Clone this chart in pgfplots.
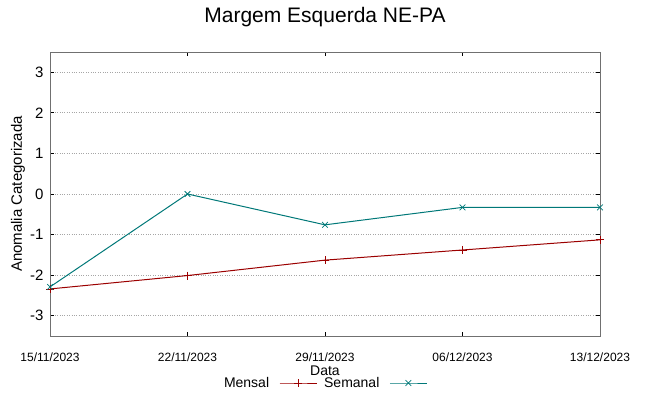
\documentclass[border=0pt]{standalone}
\usepackage{pgfplots}
\pgfplotsset{compat=1.18}
\usepackage{fontspec}
\setmainfont{Liberation Sans}
\definecolor{mensal}{HTML}{9B0000}
\definecolor{semanal}{HTML}{007878}
\definecolor{bordergray}{HTML}{707070}
\begin{document}
\begin{tikzpicture}
\useasboundingbox (0,0) rectangle (649bp,396bp);
\begin{axis}[
  at={(50bp,60bp)}, anchor=south west,
  scale only axis, width=550bp, height=284bp,
  xmin=0, xmax=4, ymin=-3.5, ymax=3.5,
  xtick={0,1,2,3,4},
  xticklabels={15/11/2023,22/11/2023,29/11/2023,06/12/2023,13/12/2023},
  ytick={-3,-2,-1,0,1,2,3},
  /pgf/number format/assume math mode=true,
  tick align=inside, major tick length=4bp,
  tick style={black, line width=0.8bp},
  axis line style={bordergray, line width=1bp},
  ymajorgrids, major grid style={gray!70, dotted, line width=0.8bp},
  xticklabel style={font=\fontsize{12bp}{14bp}\selectfont, anchor=base, yshift=-25bp},
  yticklabel style={font=\fontsize{15bp}{18bp}\selectfont, xshift=-3bp},
  title={Margem Esquerda NE-PA},
  title style={font=\fontsize{21bp}{25bp}\selectfont, at={(axis description cs:0.5,1)}, anchor=base, yshift=23.7bp},
  xlabel={Data},
  xlabel style={font=\fontsize{14bp}{16bp}\selectfont, at={(axis description cs:0.5,0)}, anchor=base, yshift=-39bp},
  ylabel={Anomalia Categorizada},
  ylabel style={font=\fontsize{15bp}{18bp}\selectfont, at={(axis description cs:-0.058,0.5)}, anchor=center},
  clip=false,
  legend columns=2,
  legend plot pos=right,
  legend style={draw=none, fill=none, font=\fontsize{14bp}{16bp}\selectfont,
    at={(axis description cs:0.504,0)}, anchor=center, yshift=-47bp,
    inner sep=0pt, /tikz/every even column/.append style={column sep=0bp}},
  legend image code/.code={%
    \path (0bp,0bp) (50bp,0bp);
    \draw[mark repeat=2,mark phase=2] plot coordinates {(8bp,0bp) (26.5bp,0bp) (45bp,0bp)};},
]
\addplot[mensal, line width=1bp, mark=+, mark size=4bp, mark options={solid, line width=0.8bp}] coordinates {
(0,-2.34) (1,-2.01) (2,-1.63) (3,-1.38) (4,-1.13)};
\addlegendentry{Mensal}
\addplot[semanal, line width=1bp, mark=x, mark size=4bp, mark options={solid, line width=0.8bp}] coordinates {
(0,-2.29) (1,0.0) (2,-0.76) (3,-0.33) (4,-0.33)};
\addlegendentry{Semanal}
\end{axis}
\end{tikzpicture}
\end{document}
